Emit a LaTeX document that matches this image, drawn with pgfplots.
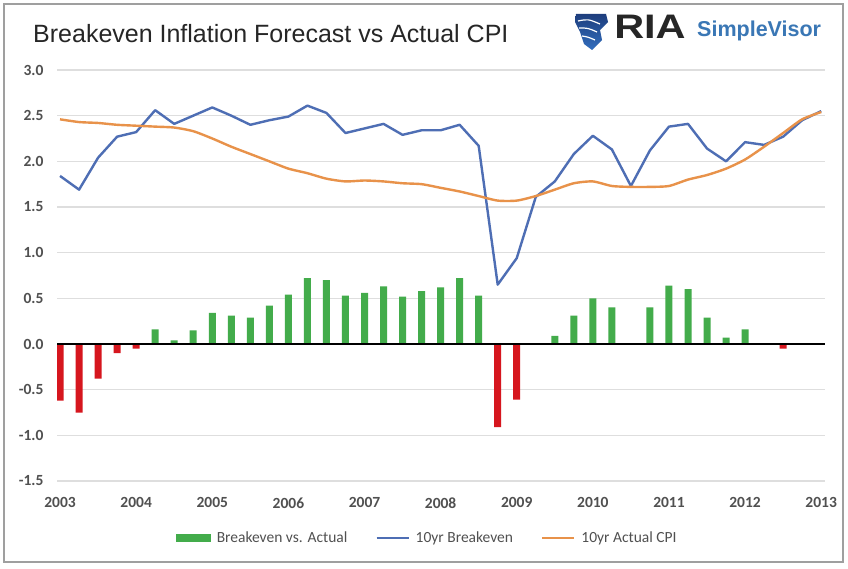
\documentclass[border=0pt]{standalone}
\usepackage{pgfplots}
\pgfplotsset{compat=1.18}
\usepackage{fontspec}
\setmainfont{Liberation Sans}
\newfontfamily\carlito{Carlito}
\definecolor{bargreen}{RGB}{67,172,75}
\definecolor{barred}{RGB}{214,22,30}
\definecolor{lblue}{RGB}{78,110,180}
\definecolor{lorange}{RGB}{232,146,74}
\definecolor{gridgray}{RGB}{222,222,222}
\definecolor{ticklab}{RGB}{80,80,80}
\definecolor{logoblue}{RGB}{58,119,181}
\definecolor{navy}{RGB}{30,62,125}
\definecolor{skyb}{RGB}{50,110,190}
\begin{document}
\begin{tikzpicture}[x=1pt,y=1pt]
\fill[white] (0,0) rectangle (848,568);
\draw[gray!75, line width=1.5pt] (4,6) rectangle (843,564);
\node[anchor=base west, inner sep=0pt, font=\fontsize{25}{25}\selectfont, text=black!85] at (33,525) {Breakeven Inflation Forecast vs Actual CPI};
% logo icon
\shade[top color=navy, bottom color=skyb] (576,554) -- (606,554) -- (608,546) -- (600,538) -- (602,528) -- (592,518) -- (584,524) -- (580,536) -- (575,546) -- cycle;
\draw[white, line width=1.2pt] (578,547) .. controls (588,549) .. (600,544) (579,540) .. controls (588,540) .. (597,536) (582,532) .. controls (588,531) .. (595,528);
\node[anchor=base west, inner sep=0pt, xscale=1.22, font=\bfseries\fontsize{34}{34}\selectfont, text=black!85] at (614,529) {RIA};
\node[anchor=base west, inner sep=0pt, font=\bfseries\fontsize{21.5}{21.5}\selectfont, text=logoblue] at (697,531) {SimpleVisor};
\begin{axis}[
  at={(57pt,87pt)}, anchor=south west, scale only axis,
  width=768pt, height=411pt,
  xmin=2002.96, xmax=2013.05, ymin=-1.5, ymax=3.0,
  axis line style={draw=none},
  tick style={draw=none},
  ytick={-1.5,-1,-0.5,0,0.5,1,1.5,2,2.5,3},
  yticklabels={-1.5,-1.0,-0.5,0.0,0.5,1.0,1.5,2.0,2.5,3.0},
  xtick={2003,2004,2005,2006,2007,2008,2009,2010,2011,2012,2013},
  xticklabels={2003,2004,2005,2006,2007,2008,2009,2010,2011,2012,2013},
  ymajorgrids, grid style={gridgray, line width=1.3pt},
  ticklabel style={font=\carlito\bfseries\fontsize{15.5}{15.5}\selectfont, text=ticklab},
  yticklabel style={xshift=-10pt},
  xticklabel style={yshift=-13pt},
  legend columns=3,
  legend style={draw=none, fill=none, at={(0.482,-0.139)}, anchor=center,
    font=\carlito\fontsize{15.5}{15.5}\selectfont, text=ticklab,
    /tikz/every odd column/.append style={column sep=4pt},
    /tikz/every even column/.append style={column sep=26pt}},
]
\addplot[ybar, bar shift=0pt, bar width=7pt, fill=bargreen, draw=none,
  legend image code/.code={\fill[bargreen] (0pt,-4pt) rectangle (35pt,4pt);}]
  coordinates {
(2004.25,0.16) (2004.50,0.04) (2004.75,0.15) (2005.00,0.34) (2005.25,0.31)
(2005.50,0.29) (2005.75,0.42) (2006.00,0.54) (2006.25,0.72) (2006.50,0.70)
(2006.75,0.53) (2007.00,0.56) (2007.25,0.63) (2007.50,0.52) (2007.75,0.58)
(2008.00,0.62) (2008.25,0.72) (2008.50,0.53) (2009.50,0.09) (2009.75,0.31)
(2010.00,0.50) (2010.25,0.40) (2010.75,0.40) (2011.00,0.64) (2011.25,0.60)
(2011.50,0.29) (2011.75,0.07) (2012.00,0.16)
};
\addlegendentry{Breakeven vs. Actual}
\addplot[ybar, bar shift=0pt, bar width=7pt, fill=barred, draw=none, forget plot]
  coordinates {
(2003.00,-0.62) (2003.25,-0.75) (2003.50,-0.38) (2003.75,-0.10) (2004.00,-0.05)
(2008.75,-0.91) (2009.00,-0.61) (2012.50,-0.05)
};
\addplot[black, line width=2.5pt, forget plot] coordinates {(2002.96,0) (2013.05,0)};
\addplot[lblue, line width=2.4pt, line join=round,
  legend image code/.code={\draw[lblue, line width=2.4pt] (0pt,0pt) -- (32pt,0pt);}]
  coordinates {
(2003.00,1.84) (2003.25,1.69) (2003.50,2.04) (2003.75,2.27) (2004.00,2.32)
(2004.25,2.56) (2004.50,2.41) (2004.75,2.50) (2005.00,2.59) (2005.25,2.50)
(2005.50,2.40) (2005.75,2.45) (2006.00,2.49) (2006.25,2.61) (2006.50,2.53)
(2006.75,2.31) (2007.00,2.36) (2007.25,2.41) (2007.50,2.29) (2007.75,2.34)
(2008.00,2.34) (2008.25,2.40) (2008.50,2.17) (2008.75,0.65) (2009.00,0.94)
(2009.25,1.61) (2009.50,1.78) (2009.75,2.08) (2010.00,2.28) (2010.25,2.13)
(2010.50,1.73) (2010.75,2.12) (2011.00,2.38) (2011.25,2.41) (2011.50,2.14)
(2011.75,2.00) (2012.00,2.21) (2012.25,2.18) (2012.50,2.27) (2012.75,2.45)
(2013.00,2.55)
};
\addlegendentry{10yr Breakeven}
\addplot[lorange, line width=2.4pt, smooth, tension=0.4,
  legend image code/.code={\draw[lorange, line width=2.4pt] (0pt,0pt) -- (32pt,0pt);}]
  coordinates {
(2003.00,2.46) (2003.25,2.43) (2003.50,2.42) (2003.75,2.40) (2004.00,2.39)
(2004.25,2.38) (2004.50,2.37) (2004.75,2.33) (2005.00,2.25) (2005.25,2.16)
(2005.50,2.08) (2005.75,2.00) (2006.00,1.92) (2006.25,1.87) (2006.50,1.81)
(2006.75,1.78) (2007.00,1.79) (2007.25,1.78) (2007.50,1.76) (2007.75,1.75)
(2008.00,1.71) (2008.25,1.67) (2008.50,1.62) (2008.75,1.57) (2009.00,1.57)
(2009.25,1.62) (2009.50,1.69) (2009.75,1.76) (2010.00,1.78) (2010.25,1.73)
(2010.50,1.72) (2010.75,1.72) (2011.00,1.73) (2011.25,1.80) (2011.50,1.85)
(2011.75,1.92) (2012.00,2.02) (2012.25,2.16) (2012.50,2.31) (2012.75,2.46)
(2013.00,2.54)
};
\addlegendentry{10yr Actual CPI}
\end{axis}
\end{tikzpicture}
\end{document}
